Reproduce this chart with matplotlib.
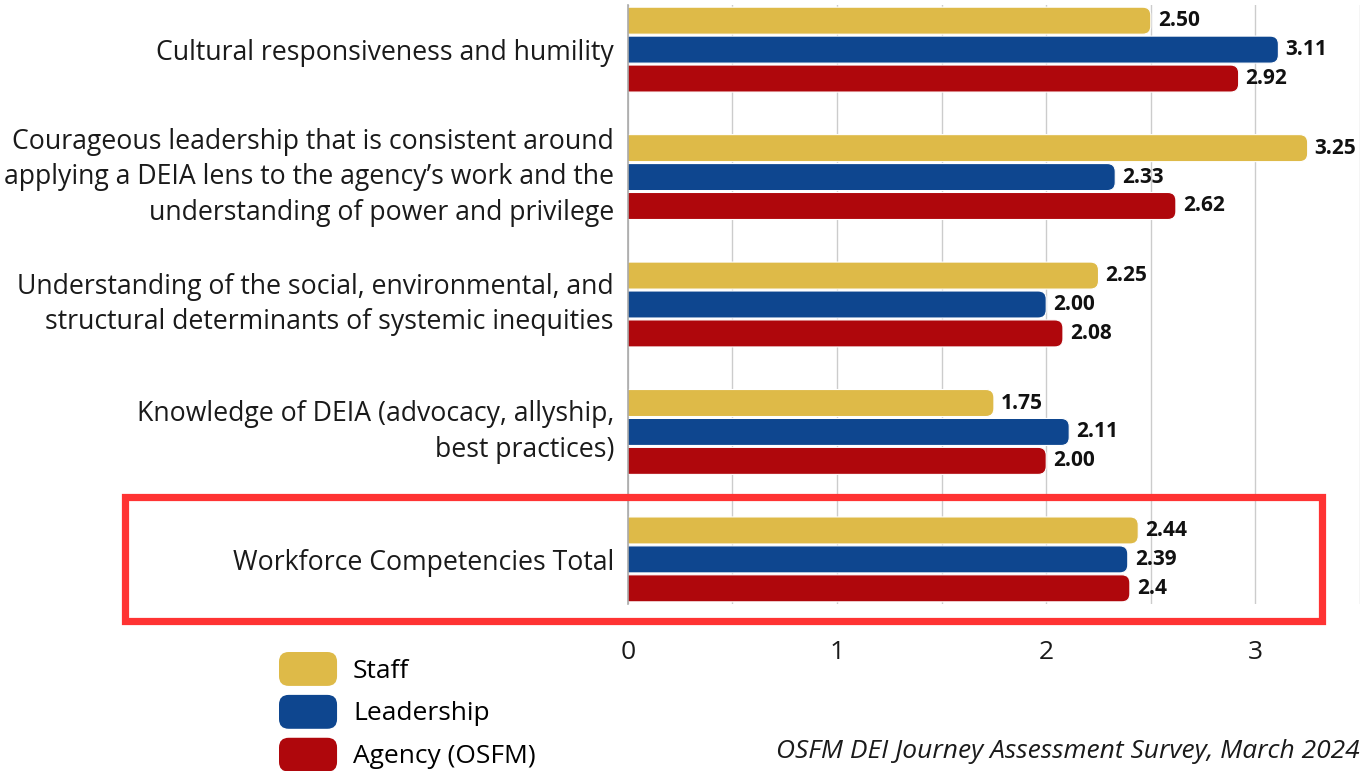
import numpy as np
import matplotlib
matplotlib.use("Agg")
import matplotlib.pyplot as plt
from matplotlib.patches import FancyBboxPatch, Rectangle, Patch
from matplotlib.legend_handler import HandlerPatch

plt.rcParams['font.family'] = ['Open Sans', 'DejaVu Sans']

# data
categories = [
    "Cultural responsiveness and humility",
    "Courageous leadership that is consistent around\napplying a DEIA lens to the agency\u2019s work and the\nunderstanding of power and privilege",
    "Understanding of the social, environmental, and\nstructural determinants of systemic inequities",
    "Knowledge of DEIA (advocacy, allyship,\nbest practices)",
    "Workforce Competencies Total",
]
series_names = ["Staff", "Leadership", "Agency (OSFM)"]
staff = [2.50, 3.25, 2.25, 1.75, 2.44]
leadership = [3.11, 2.33, 2.00, 2.11, 2.39]
agency = [2.92, 2.62, 2.08, 2.00, 2.4]
staff_labels = ["2.50", "3.25", "2.25", "1.75", "2.44"]
leadership_labels = ["3.11", "2.33", "2.00", "2.11", "2.39"]
agency_labels = ["2.92", "2.62", "2.08", "2.00", "2.4"]
colors = ["#DEBA48", "#0E468F", "#AF070C"]

W, H = 1362, 771
fig = plt.figure(figsize=(W / 100, H / 100), dpi=100)
ax_rect = [0.461, 0.2166, 0.5375, 0.7769]
ax = fig.add_axes(ax_rect)

xmax = 3.5
ax.set_xlim(0, xmax)
ax.set_ylim(4.35, -0.35)

# pixel scales, used to keep the rounded corners circular
xscale = ax_rect[2] * W / xmax
yscale = ax_rect[3] * H / 4.7
aspect = xscale / yscale
rx = 8 / xscale

y = np.arange(len(categories))
bh = 0.212
step = 0.227
all_vals = [staff, leadership, agency]
all_labels = [staff_labels, leadership_labels, agency_labels]

for i, (vals, labs, c) in enumerate(zip(all_vals, all_labels, colors)):
    bars = ax.barh(y + (i - 1) * step, vals, height=bh, color=c)
    for rect, lab in zip(bars.patches, labs):
        x0, y0 = rect.get_x(), rect.get_y()
        w, h = rect.get_width(), rect.get_height()
        rect.set_visible(False)
        p = FancyBboxPatch((x0 - rx, y0), w + rx, h,
                           boxstyle=f"round,pad=0,rounding_size={rx}",
                           mutation_aspect=aspect, fc=c, ec="white", lw=0.8,
                           zorder=3)
        ax.add_patch(p)
        ax.text(x0 + w + 7 / xscale, y0 + h / 2, lab, va="center", ha="left",
                fontsize=15, fontweight="bold", color="#111111", zorder=4)

ax.set_yticks(y)
ax.set_yticklabels(categories, fontsize=19.2, color="#1a1a1a", linespacing=1.36,
                   va="center")
for lbl in ax.get_yticklabels():
    if "\n" not in lbl.get_text():
        lbl.set_va("center_baseline")
ax.set_xticks([0, 1, 2, 3])
ax.set_xticks(np.arange(0, xmax + 0.01, 0.5), minor=True)
ax.tick_params(axis="x", which="both", length=0, pad=26, labelsize=19,
               labelcolor="#1a1a1a")
ax.tick_params(axis="y", length=0, pad=10)
ax.grid(axis="x", which="both", color="#CCCCCC", lw=1, zorder=0)
ax.set_axisbelow(True)
for s in ["top", "right", "bottom"]:
    ax.spines[s].set_visible(False)
ax.spines["left"].set_color("#AAAAAA")
ax.spines["left"].set_linewidth(1.2)
ax.spines["left"].set_zorder(5)

# highlight box around the total
fig.add_artist(Rectangle((125 / W, 1 - 621 / H), (1322 - 125) / W, (621 - 497) / H,
                         transform=fig.transFigure, fill=False, ec="#FF3333",
                         lw=5.2))


class RoundHandler(HandlerPatch):
    def create_artists(self, legend, orig_handle, xdescent, ydescent,
                       width, height, fontsize, trans):
        p = FancyBboxPatch((-xdescent, -ydescent), width, height,
                           boxstyle="round,pad=0,rounding_size=7",
                           fc=orig_handle.get_facecolor(), ec="none",
                           transform=trans)
        return [p]


handles = [Patch(color=c, label=n) for c, n in zip(colors, series_names)]
fig.legend(handles=handles, loc="upper left", bbox_to_anchor=(279 / W, 1 - 652 / H),
           frameon=False, fontsize=19, handlelength=2.2, handleheight=1.6,
           handletextpad=0.6, labelspacing=0.34, borderpad=0, borderaxespad=0,
           handler_map={Patch: RoundHandler()})

fig.text(0.9985, 1 - 752 / H, "OSFM DEI Journey Assessment Survey, March 2024",
         ha="right", va="center", style="italic", fontsize=19, color="#1a1a1a")

fig.savefig("out.png", dpi=100)
